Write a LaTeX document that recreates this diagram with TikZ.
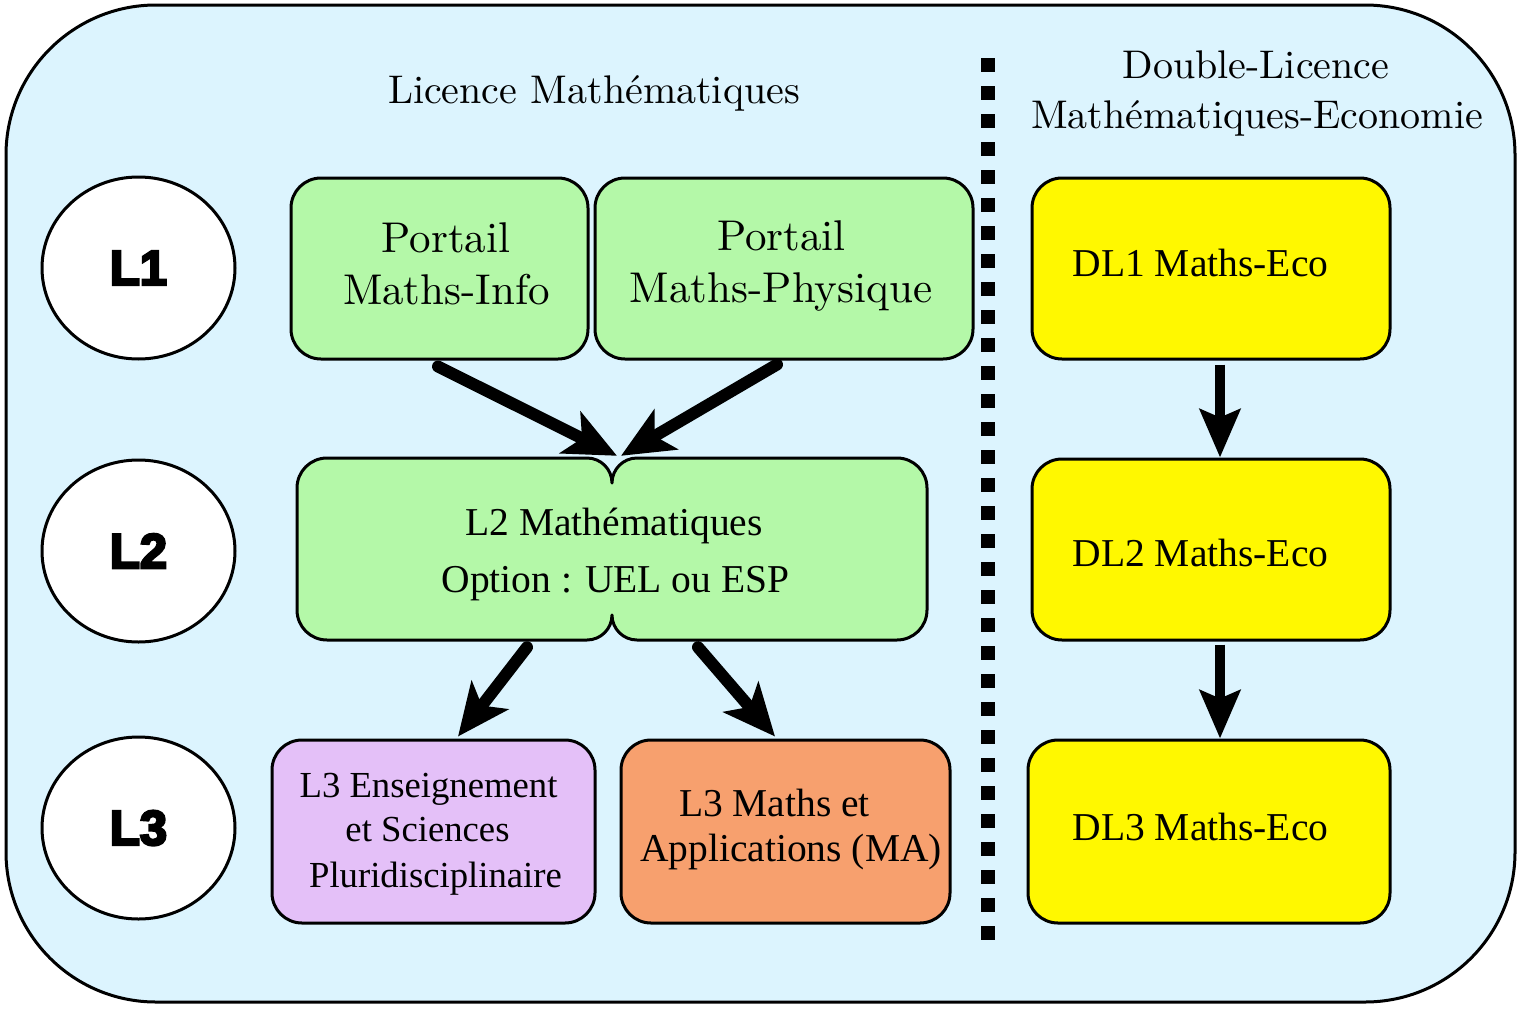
\documentclass[tikz,border=0pt]{standalone}
\usepackage{fontspec}
\setmainfont{lmroman10-regular}[Extension=.otf]
\newfontfamily\tms{Liberation Serif}
\newfontfamily\heavy{Liberation Sans Bold}[FakeBold=5]
\usetikzlibrary{shapes.geometric,arrows.meta}
\definecolor{bgc}{RGB}{220,244,254}
\definecolor{grn}{RGB}{180,248,168}
\definecolor{prp}{RGB}{228,192,248}
\definecolor{org}{RGB}{247,160,110}
\definecolor{ylw}{RGB}{255,248,0}
\tikzset{
  box/.style={draw, line width=3pt, rounded corners=30pt, inner sep=0pt},
  lvl/.style={ellipse, draw, line width=3pt, fill=white, minimum width=193pt, minimum height=182pt, inner sep=0pt, font=\heavy\fontsize{49}{60}\selectfont},
  bigarrow/.style={line width=12pt, line cap=round, -{Stealth[length=52pt,width=46pt,inset=13pt]}},
  dlarrow/.style={line width=10pt, -{Stealth[length=48pt,width=40pt,inset=8pt]}},
  lmtitle/.style={anchor=base, inner sep=0pt, font=\fontsize{40}{48}\selectfont},
  lmbox/.style={anchor=base, inner sep=0pt, font=\fontsize{43}{52}\selectfont},
  tmsltwo/.style={anchor=base, inner sep=0pt, font=\tms\fontsize{39.5}{46}\selectfont},
  tmsdl/.style={anchor=base, inner sep=0pt, font=\tms\fontsize{39.5}{46}\selectfont},
  tmsens/.style={anchor=base, inner sep=0pt, font=\tms\fontsize{36.7}{44}\selectfont},
  tmsma/.style={anchor=base, inner sep=0pt, font=\tms\fontsize{39.5}{46}\selectfont}
}
\begin{document}
\begin{tikzpicture}[x=1pt,y=-1pt]
\useasboundingbox (0,0) rectangle (1517,1009);
% background
\draw[line width=3pt, fill=bgc, rounded corners=150pt] (6,5) rectangle (1515,1002);
% separator
\draw[line width=14pt, dash pattern=on 14pt off 14pt] (988,58) -- (988,948);
% titles
\node[lmtitle] (t1) at (594,103.5) {Licence Mathématiques};
\node[lmtitle] (t2a) at (1256,78.5) {Double-Licence};
\node[lmtitle] (t2b) at (1257,128.5) {Mathématiques-Economie};
% level ellipses
\node[lvl] (e1) at (138.5,268) {L1};
\node[lvl] (e2) at (138.5,551) {L2};
\node[lvl] (e3) at (138.5,828) {L3};
% boxes
\node[box, fill=grn, minimum width=297pt, minimum height=181pt] (pmi) at (439.5,268.5) {};
\node[box, fill=grn, minimum width=378pt, minimum height=181pt] (pmp) at (784,268.5) {};
\node[box, fill=ylw, minimum width=358pt, minimum height=181pt] (dl1) at (1211,268.5) {};
\node[box, fill=ylw, minimum width=358pt, minimum height=181pt] (dl2) at (1211,549.5) {};
\node[box, fill=ylw, minimum width=362pt, minimum height=183pt] (dl3) at (1209,831.5) {};
\node[box, fill=prp, minimum width=323pt, minimum height=183pt] (ens) at (433.5,831.5) {};
\node[box, fill=org, minimum width=329pt, minimum height=183pt] (ma) at (785.5,831.5) {};
% L2 double box
\filldraw[fill=grn, line width=3pt, line join=round]
  (327,458) -- (587,458) .. controls (600.8,458) and (612,469.2) .. (612,483)
  .. controls (612,469.2) and (623.2,458) .. (637,458) -- (897,458)
  .. controls (913.6,458) and (927,471.4) .. (927,488) -- (927,610)
  .. controls (927,626.6) and (913.6,640) .. (897,640) -- (637,640)
  .. controls (623.2,640) and (612,628.8) .. (612,615)
  .. controls (612,628.8) and (600.8,640) .. (587,640) -- (327,640)
  .. controls (310.4,640) and (297,626.6) .. (297,610) -- (297,488)
  .. controls (297,471.4) and (310.4,458) .. (327,458) -- cycle;
\node[minimum width=630pt, minimum height=182pt, inner sep=0pt] (l2) at (612,549) {};
% texts
\node[lmbox] (pmia) at (446,252) {Portail};
\node[lmbox] (pmib) at (446.5,304) {Maths-Info};
\node[lmbox] (pmpa) at (781.5,250) {Portail};
\node[lmbox] (pmpb) at (781,302) {Maths-Physique};
\node[tmsltwo] (l2a) at (614,535) {L2 Mathématiques};
\node[tmsltwo] (l2b) at (615.5,592) {Option : UEL ou ESP};
\node[tmsdl] (dl1t) at (1200.5,276) {DL1 Maths-Eco};
\node[tmsdl] (dl2t) at (1200.5,566) {DL2 Maths-Eco};
\node[tmsdl] (dl3t) at (1200.5,840) {DL3 Maths-Eco};
\node[tmsens] (ensa) at (428.5,797) {L3 Enseignement};
\node[tmsens] (ensb) at (427.5,841) {et Sciences};
\node[tmsens] (ensc) at (435.5,887) {Pluridisciplinaire};
\node[tmsma] (maa) at (774.5,816) {L3 Maths et};
\node[tmsma] (mab) at (791,861) {Applications (MA)};
% arrows
\draw[bigarrow] ([xshift=-1.5pt,yshift=-6pt]pmi.south) -- ([xshift=5pt,yshift=2pt]l2.north);
\draw[bigarrow] ([xshift=-7pt,yshift=-4pt]pmp.south) -- ([xshift=9pt,yshift=2pt]l2.north);
\draw[bigarrow] ([xshift=-85pt,yshift=-7pt]l2.south) -- ([xshift=24.5pt,yshift=2pt]ens.north);
\draw[bigarrow] ([xshift=86pt,yshift=-7pt]l2.south) -- ([xshift=-10.5pt,yshift=2pt]ma.north);
\draw[dlarrow] ([xshift=9pt,yshift=-4pt]dl1.south) -- ([xshift=9pt]dl2.north);
\draw[dlarrow] ([xshift=9pt,yshift=-3pt]dl2.south) -- ([xshift=11pt]dl3.north);
\end{tikzpicture}
\end{document}
